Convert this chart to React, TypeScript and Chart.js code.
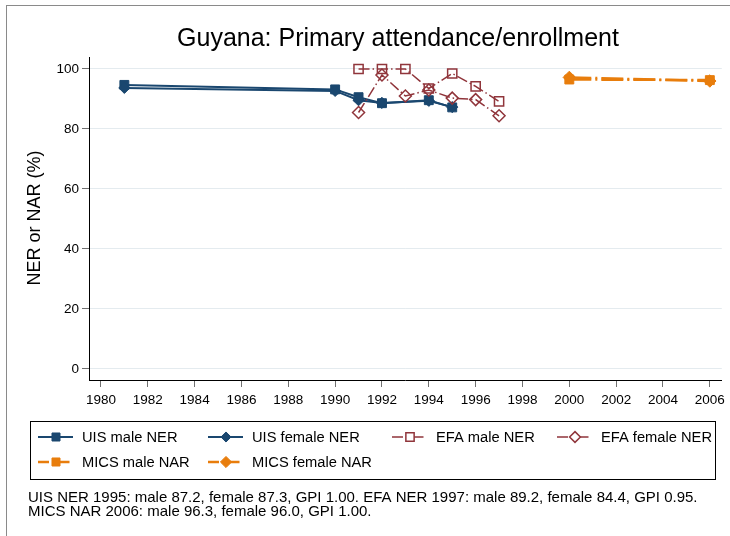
import React, { useEffect, useRef } from 'react';
import { Chart, registerables } from 'chart.js';

Chart.register(...registerables);

// ---- data ----
const titleText = 'Guyana: Primary attendance/enrollment';
const yAxisTitle = 'NER or NAR (%)';
const footnoteLines = [
  'UIS NER 1995: male 87.2, female 87.3, GPI 1.00. EFA NER 1997: male 89.2, female 84.4, GPI 0.95.',
  'MICS NAR 2006: male 96.3, female 96.0, GPI 1.00.',
];

const uisYears = [1981, 1990, 1991, 1992, 1994, 1995];
const uisMale = [94.7, 93.2, 90.6, 88.6, 89.6, 87.2];
const uisFemale = [93.7, 92.7, 89.6, 88.7, 89.4, 87.3];

const efaYears = [1991, 1992, 1993, 1994, 1995, 1996, 1997];
const efaMale = [100, 100, 100, 93.5, 98.5, 94.2, 89.2];
const efaFemale = [85.5, 98.0, 91.0, 93.0, 90.3, 89.8, 84.4];

const micsYears = [2000, 2006];
const micsMale = [96.5, 96.3];
const micsFemale = [97.2, 96.0];

const xTickValues = [1980, 1982, 1984, 1986, 1988, 1990, 1992, 1994, 1996, 1998, 2000, 2002, 2004, 2006];
const yTickValues = [0, 20, 40, 60, 80, 100];

const seriesLabels = [
  'UIS male NER',
  'UIS female NER',
  'EFA male NER',
  'EFA female NER',
  'MICS male NAR',
  'MICS female NAR',
];

// ---- styles ----
const NAVY = '#1a476f';
const MAROON = '#90353b';
const ORANGE = '#e87d0c';
const FONT = '"Liberation Sans", Arial, Helvetica, sans-serif';

type Style = {
  color: string;
  width: number;
  dash: number[];
  shape: 'rect' | 'rectRot';
  radius: number;
  hollow: boolean;
};

const styles: Style[] = [
  { color: NAVY, width: 2, dash: [], shape: 'rect', radius: 6.3, hollow: false },
  { color: NAVY, width: 2, dash: [], shape: 'rectRot', radius: 5.6, hollow: false },
  { color: MAROON, width: 1.5, dash: [11, 3, 1.5, 3], shape: 'rect', radius: 6.5, hollow: true },
  { color: MAROON, width: 1.5, dash: [11, 3, 1.5, 3], shape: 'rectRot', radius: 6, hollow: true },
  { color: ORANGE, width: 2.5, dash: [22, 4, 2, 4], shape: 'rect', radius: 6.3, hollow: false },
  { color: ORANGE, width: 2.5, dash: [22, 4, 2, 4], shape: 'rectRot', radius: 6.2, hollow: false },
];

const seriesData = [
  { x: uisYears, y: uisMale },
  { x: uisYears, y: uisFemale },
  { x: efaYears, y: efaMale },
  { x: efaYears, y: efaFemale },
  { x: micsYears, y: micsMale },
  { x: micsYears, y: micsFemale },
];

function drawMarker(ctx: CanvasRenderingContext2D, s: Style, x: number, y: number) {
  ctx.save();
  ctx.setLineDash([]);
  ctx.beginPath();
  if (s.shape === 'rect') {
    const h = s.radius * Math.SQRT1_2;
    ctx.rect(x - h, y - h, 2 * h, 2 * h);
  } else {
    const r = s.radius;
    ctx.moveTo(x, y - r);
    ctx.lineTo(x + r, y);
    ctx.lineTo(x, y + r);
    ctx.lineTo(x - r, y);
    ctx.closePath();
  }
  ctx.lineWidth = s.hollow ? 1.5 : 1;
  ctx.strokeStyle = s.color;
  ctx.fillStyle = s.hollow ? '#ffffff' : s.color;
  ctx.fill();
  ctx.stroke();
  ctx.restore();
}

const decorPlugin = {
  id: 'decor',
  beforeDraw(chart: any) {
    const ctx: CanvasRenderingContext2D = chart.ctx;
    ctx.save();
    ctx.fillStyle = '#ffffff';
    ctx.fillRect(0, 0, chart.width, chart.height);
    ctx.restore();
  },
  afterDraw(chart: any) {
    const ctx: CanvasRenderingContext2D = chart.ctx;
    ctx.save();
    // outer frame
    ctx.strokeStyle = '#8a8a8a';
    ctx.lineWidth = 1;
    ctx.strokeRect(6.5, 5.5, 800, 600);

    // title
    ctx.fillStyle = '#000000';
    ctx.font = `25px ${FONT}`;
    ctx.textAlign = 'center';
    ctx.textBaseline = 'middle';
    ctx.fillText(titleText, 398, 39);

    // y axis title
    ctx.save();
    ctx.translate(35, 218);
    ctx.rotate(-Math.PI / 2);
    ctx.font = `18px ${FONT}`;
    ctx.fillText(yAxisTitle, 0, 0);
    ctx.restore();

    // legend box
    ctx.strokeStyle = '#000000';
    ctx.lineWidth = 1;
    ctx.strokeRect(30.5, 421.5, 685, 58);

    const colText = [82, 252, 436, 601];
    const rowY = [437, 462];
    ctx.font = `14.7px ${FONT}`;
    ctx.textAlign = 'left';
    ctx.textBaseline = 'middle';
    seriesLabels.forEach((label, i) => {
      const col = i % 4;
      const row = Math.floor(i / 4);
      const tx = colText[col];
      const y = rowY[row];
      const mx = tx - 26;
      const s = styles[i];
      ctx.save();
      ctx.strokeStyle = s.color;
      ctx.lineWidth = s.width;
      ctx.setLineDash(s.dash.length ? [11, 4, 1.5, 4] : []);
      ctx.beginPath();
      ctx.moveTo(mx - 18, y);
      ctx.lineTo(mx + 17, y);
      ctx.stroke();
      ctx.restore();
      drawMarker(ctx, { ...s, radius: s.radius * 0.9 }, mx, y);
      ctx.fillStyle = '#000000';
      ctx.fillText(label, tx, y + 1);
    });

    // footnote
    ctx.font = `15px ${FONT}`;
    ctx.textAlign = 'left';
    ctx.fillStyle = '#000000';
    ctx.fillText(footnoteLines[0], 28, 498);
    ctx.fillText(footnoteLines[1], 28, 512);
    ctx.restore();
  },
};

export default function App() {
  const canvasRef = useRef<HTMLCanvasElement | null>(null);

  useEffect(() => {
    const canvas = canvasRef.current;
    if (!canvas) return;
    const datasets = seriesData.map((d, i) => {
      const s = styles[i];
      return {
        label: seriesLabels[i],
        data: d.x.map((xv, j) => ({ x: xv, y: d.y[j] })),
        showLine: true,
        borderColor: s.color,
        borderWidth: s.width,
        borderDash: s.dash,
        pointStyle: s.shape,
        pointRadius: s.radius,
        pointHoverRadius: s.radius,
        pointBorderColor: s.color,
        pointBackgroundColor: s.hollow ? 'rgba(0,0,0,0)' : s.color,
        pointBorderWidth: s.hollow ? 1.5 : 1,
        order: seriesLabels.length - i,
        fill: false,
        tension: 0,
      };
    });

    const chart = new Chart(canvas, {
      type: 'scatter',
      data: { datasets },
      options: {
        animation: false,
        responsive: false,
        devicePixelRatio: 1,
        layout: { padding: { top: 57, left: 0, right: 8, bottom: 126 } },
        plugins: {
          legend: { display: false },
          title: { display: false },
          tooltip: { enabled: false },
        },
        scales: {
          x: {
            type: 'linear',
            min: 1979.49,
            max: 2006.51,
            afterBuildTicks: (scale: any) => {
              scale.ticks = xTickValues.map((v) => ({ value: v }));
            },
            afterFit: (scale: any) => {
              scale.height = 30;
            },
            ticks: {
              color: '#000000',
              font: { family: FONT, size: 13.5 },
              padding: 5,
              maxRotation: 0,
              autoSkip: false,
              callback: (v: any) => String(v),
            },
            grid: {
              drawOnChartArea: false,
              drawTicks: true,
              tickLength: 7,
              tickColor: '#707070',
              tickWidth: 1,
            },
            border: { display: true, color: '#000000', width: 1 },
          },
          y: {
            type: 'linear',
            min: -3.67,
            max: 104,
            afterBuildTicks: (scale: any) => {
              scale.ticks = yTickValues.map((v) => ({ value: v }));
            },
            afterFit: (scale: any) => {
              scale.width = 89;
            },
            ticks: {
              color: '#000000',
              font: { family: FONT, size: 13.5 },
              padding: 3,
              autoSkip: false,
              callback: (v: any) => String(v),
            },
            grid: {
              drawOnChartArea: true,
              color: '#e4ebef',
              lineWidth: 1,
              drawTicks: true,
              tickLength: 7,
              tickColor: '#707070',
              tickWidth: 1,
            },
            border: { display: true, color: '#000000', width: 1 },
          },
        },
      },
      plugins: [decorPlugin],
    } as any);

    return () => {
      chart.destroy();
    };
  }, []);

  return (
    <div style={{ position: 'absolute', left: 0, top: 0, width: 730, height: 536, background: '#ffffff' }}>
      <canvas ref={canvasRef} width={730} height={536} style={{ width: 730, height: 536, display: 'block' }} />
    </div>
  );
}
